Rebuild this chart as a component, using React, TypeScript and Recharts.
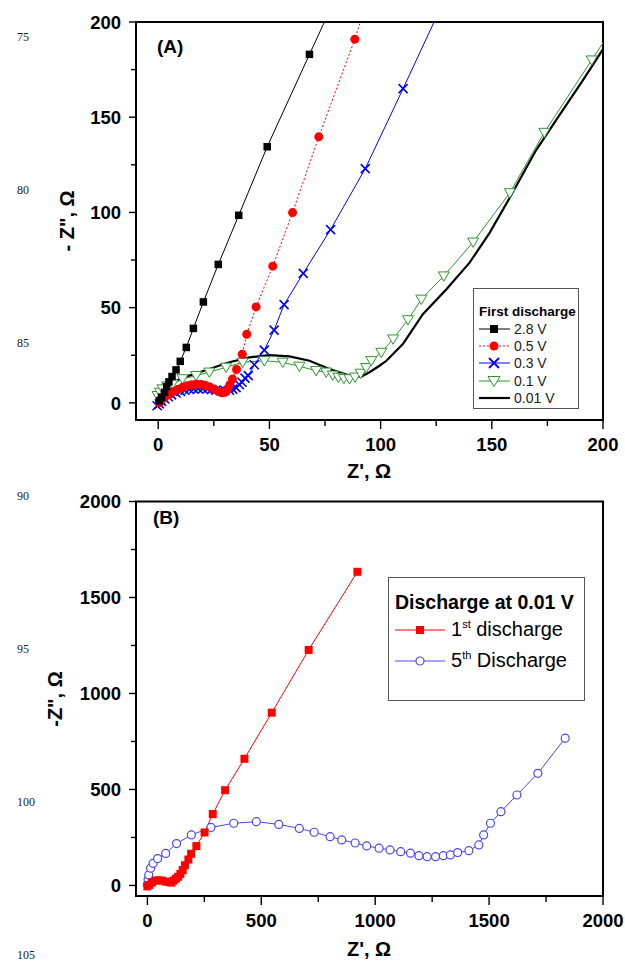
import React from 'react';
import { LineChart, Line, XAxis, YAxis, ReferenceArea, Legend } from 'recharts';

const FONT = '"Liberation Sans", Arial, Helvetica, sans-serif';

// (A) first discharge, Z' (ohm) vs -Z'' (ohm)
const reA28 = [0.5, 1.5, 2.8, 3.8, 4.8, 6.2, 8.0, 9.9, 12.6, 15.8, 20.3, 27.0, 36.2, 49.0, 68.0, 85];
const imA28 = [1, 3, 5.5, 8.5, 11, 13.8, 17.3, 21.8, 29.1, 39.1, 53.0, 72.7, 98.5, 134.5, 183.0, 226];

const reA05 = [0.5, 1.5, 3, 5, 7, 9, 11, 13, 15, 17, 19, 21, 23, 25, 27, 28.5, 30, 31.2, 32.2, 33.4, 35.2, 37.8, 39.8, 44, 51.5, 60.4, 72.2, 88.4, 95];
const imA05 = [0, 1.5, 3, 4.5, 6, 7.2, 8.2, 9, 9.5, 9.8, 9.8, 9.3, 8.5, 7.3, 6, 5.3, 5.6, 7.2, 9.5, 12.5, 17.5, 25.5, 36, 50.4, 71.8, 99.9, 139.7, 191, 215];

const reA03 = [-0.5, 0.5, 1.5, 3, 4.5, 6, 8, 10, 12, 14, 16, 18, 20, 22, 24, 26, 28, 30, 32, 33.5, 35, 36.5, 37.7, 39, 40.5, 43.2, 47.7, 52.1, 56.6, 65.2, 77.5, 93.1, 110.1, 130];
const imA03 = [-1.5, -0.5, 0.8, 2, 3.2, 4.2, 5.2, 6, 6.6, 7, 7.3, 7.5, 7.5, 7.3, 7, 6.7, 6.5, 6.5, 6.7, 7.2, 8, 9.5, 10.8, 13, 14.3, 20, 27.7, 38.2, 51.6, 68, 91, 123, 165, 215];

const reA01 = [-0.3, 0.8, 1.9, 4, 6.4, 10.9, 17, 23, 30.5, 38, 47.7, 56, 63.5, 71, 75.5, 78.5, 81, 83.5, 86, 88.5, 91, 93.5, 95.8, 100.3, 105.6, 112.3, 118.3, 128.4, 141.6, 158.1, 173.6, 194.9, 205];
const imA01 = [3.8, 5.5, 7.3, 8.8, 9.9, 12.6, 14.3, 16.1, 18.7, 21.3, 22.1, 21.3, 19.2, 16.9, 16.1, 14.5, 13.4, 12.8, 12.6, 13.5, 15.5, 18.5, 22.1, 26.5, 33.5, 43.6, 54.4, 66.6, 84.4, 110.3, 142, 180, 198];

const reA001 = [0.5, 2, 6.4, 14, 23, 32, 41, 50, 59, 68, 77, 86, 91.3, 95, 99.5, 102.6, 110, 119, 129.6, 140, 149, 158, 170, 182, 191, 199.7, 205];
const imA001 = [1.2, 7.3, 10.8, 14.3, 17.8, 21.3, 23.9, 25.1, 24.4, 22.1, 17.8, 14.3, 13.8, 16.1, 19.5, 22.1, 30.9, 46.6, 59.7, 73.6, 89.3, 107.6, 132.9, 153.8, 169.5, 185.2, 194];

// (B) discharge at 0.01 V
const reB1 = [0, 8, 20, 35, 50, 65, 80, 95, 105, 115, 125, 135, 145, 155, 165, 180, 192, 215, 251, 287, 341, 426, 546, 708, 922];
const imB1 = [-5, 3, 15, 25, 27, 25, 20, 18, 15, 25, 35, 45, 60, 80, 105, 135, 165, 205, 276, 372, 496, 660, 900, 1227, 1634];

const reB5 = [0, 3, 6, 14, 25, 45, 80, 128, 193, 279, 379, 478, 577, 667, 732, 802, 853, 912, 963, 1017, 1065, 1112, 1155, 1192, 1228, 1265, 1299, 1330, 1362, 1411, 1455, 1476, 1506, 1552, 1622, 1714, 1834];
const imB5 = [3, 29, 55, 90, 115, 140, 167, 218, 263, 302, 324, 332, 318, 297, 277, 254, 237, 221, 206, 194, 185, 176, 168, 155, 150, 150, 155, 159, 171, 181, 211, 263, 324, 384, 471, 584, 767];

const ticksA = [0, 25, 50, 75, 100, 125, 150, 175, 200];
const ticksB = [0, 250, 500, 750, 1000, 1250, 1500, 1750, 2000];
const lineNumbers = ['75', '80', '85', '90', '95', '100', '105'];

const zip = (re: number[], im: number[]) => re.map((x, i) => ({ x, y: im[i] }));

const GREEN = '#2f962f';
const BLUE_B = '#4646ff';

// marker renderers
const squareDot = (color: string, s: number) => (p: any) =>
  p.cx == null ? <g key={p.index} /> : (
    <rect key={p.index} x={p.cx - s / 2} y={p.cy - s / 2} width={s} height={s} fill={color} />
  );
const circleDot = (color: string, r: number, open = false) => (p: any) =>
  p.cx == null ? <g key={p.index} /> : (
    <circle key={p.index} cx={p.cx} cy={p.cy} r={r} fill={open ? '#fff' : color} stroke={color} strokeWidth={open ? 1.2 : 0} />
  );
const crossDot = (color: string, s: number) => (p: any) =>
  p.cx == null ? <g key={p.index} /> : (
    <path key={p.index} d={`M${p.cx - s},${p.cy - s}L${p.cx + s},${p.cy + s}M${p.cx - s},${p.cy + s}L${p.cx + s},${p.cy - s}`} stroke={color} strokeWidth={1.6} fill="none" />
  );
const triDot = (color: string, s: number) => (p: any) =>
  p.cx == null ? <g key={p.index} /> : (
    <path key={p.index} d={`M${p.cx - s},${p.cy - s * 0.75}L${p.cx + s},${p.cy - s * 0.75}L${p.cx},${p.cy + s * 0.95}Z`} fill="#fff" stroke={color} strokeWidth={1} />
  );

const xTick = (major: number) => (p: any) => {
  const { x, y, payload } = p;
  const isMajor = payload.value % major === 0;
  return (
    <g>
      <line x1={x} x2={x} y1={y} y2={y + (isMajor ? 9 : 6)} stroke="#000" strokeWidth={1.4} />
      {isMajor && (
        <text x={x} y={y + 31} textAnchor="middle" fontSize={18.5} fontWeight="bold" fontFamily={FONT} fill="#000">
          {payload.value}
        </text>
      )}
    </g>
  );
};

const yTick = (major: number) => (p: any) => {
  const { x, y, payload } = p;
  const isMajor = payload.value % major === 0;
  return (
    <g>
      <line x1={x - (isMajor ? 7 : 5)} x2={x} y1={y} y2={y} stroke="#000" strokeWidth={1.4} />
      {isMajor && (
        <text x={x - 15} y={y} dy="0.36em" textAnchor="end" fontSize={18.5} fontWeight="bold" fontFamily={FONT} fill="#000">
          {payload.value}
        </text>
      )}
    </g>
  );
};

const Sample = ({ w, color, dash, width = 1, mark }: { w: number; color: string; dash?: string; width?: number; mark?: React.ReactNode }) => (
  <svg width={w} height={14} style={{ display: 'block', overflow: 'visible' }}>
    <line x1={0} x2={w} y1={7} y2={7} stroke={color} strokeWidth={width} strokeDasharray={dash} />
    {mark}
  </svg>
);

const legendA = () => {
  const rows = [
    { t: '2.8 V', c: '#000', m: <rect x={11} y={3} width={8} height={8} fill="#000" /> },
    { t: '0.5 V', c: '#f00', d: '2 2', m: <circle cx={15} cy={7} r={4.5} fill="#f00" /> },
    { t: '0.3 V', c: '#00f', m: <path d="M10,2L20,12M10,12L20,2" stroke="#00f" strokeWidth={1.8} /> },
    { t: '0.1 V', c: GREEN, m: <path d="M9,2.5L21,2.5L15,12.5Z" fill="#fff" stroke={GREEN} /> },
    { t: '0.01 V', c: '#000', w: 2.2 },
  ];
  return (
    <div style={{ width: 106, height: 121, border: '1px solid #555', boxSizing: 'border-box', background: '#fff', fontFamily: FONT, padding: '14px 0 0 5px' }}>
      <div style={{ fontSize: 13.5, fontWeight: 'bold', lineHeight: '17px' }}>First discharge</div>
      {rows.map((r) => (
        <div key={r.t} style={{ display: 'flex', alignItems: 'center', height: 17.3, fontSize: 14 }}>
          <Sample w={31} color={r.c} dash={r.d} width={r.w ?? 1} mark={r.m} />
          <span style={{ marginLeft: 4, color: '#222' }}>{r.t}</span>
        </div>
      ))}
    </div>
  );
};

const legendB = () => (
  <div style={{ width: 197, height: 124, border: '1px solid #555', boxSizing: 'border-box', background: '#fff', fontFamily: FONT, padding: '12px 0 0 6px' }}>
    <div style={{ fontSize: 19.5, fontWeight: 'bold', lineHeight: '24px' }}>Discharge at 0.01 V</div>
    <div style={{ display: 'flex', alignItems: 'center', height: 31, fontSize: 20 }}>
      <Sample w={50} color="#f00" mark={<rect x={21} y={3} width={8} height={8} fill="#f00" />} />
      <span style={{ marginLeft: 6 }}>1<sup style={{ fontSize: 11 }}>st</sup> discharge</span>
    </div>
    <div style={{ display: 'flex', alignItems: 'center', height: 31, fontSize: 20 }}>
      <Sample w={50} color={BLUE_B} mark={<circle cx={25} cy={7} r={4} fill="#fff" stroke={BLUE_B} strokeWidth={1.2} />} />
      <span style={{ marginLeft: 6 }}>5<sup style={{ fontSize: 11 }}>th</sup> Discharge</span>
    </div>
  </div>
);

const titleStyle: React.CSSProperties = { position: 'absolute', fontFamily: FONT, fontWeight: 'bold', fontSize: 20, whiteSpace: 'nowrap', color: '#000' };

export default function App() {
  return (
    <div style={{ position: 'absolute', left: 0, top: 0, width: 625, height: 965, background: '#fff', overflow: 'hidden' }}>
      {lineNumbers.map((n, i) => (
        <div key={n} style={{ position: 'absolute', left: 17, top: 30 + i * 153, fontFamily: '"Liberation Serif", "DejaVu Serif", serif', fontSize: 12, color: '#222' }}>
          {n}
        </div>
      ))}

      <div style={{ position: 'absolute', left: 0, top: 0 }}>
        <LineChart width={625} height={480} margin={{ top: 22, right: 22, bottom: 20, left: 76 }}>
          <XAxis type="number" dataKey="x" domain={[-10, 200]} ticks={ticksA} interval={0} allowDataOverflow height={40}
            axisLine={false} tickLine={false} tickSize={0} tickMargin={0} tick={xTick(50)} />
          <YAxis type="number" dataKey="y" domain={[-9, 200]} ticks={ticksA} interval={0} allowDataOverflow width={60}
            axisLine={false} tickLine={false} tickSize={0} tickMargin={0} tick={yTick(50)} />
          <ReferenceArea x1={-10} x2={200} y1={-9} y2={200} fill="none" stroke="#000" strokeWidth={2} ifOverflow="visible" />
          <Line data={zip(reA001, imA001)} dataKey="y" name="0.01 V" stroke="#000" strokeWidth={2.2} dot={false} activeDot={false} isAnimationActive={false} />
          <Line data={zip(reA01, imA01)} dataKey="y" name="0.1 V" stroke={GREEN} strokeWidth={1} dot={triDot(GREEN, 5.5)} activeDot={false} isAnimationActive={false} />
          <Line data={zip(reA03, imA03)} dataKey="y" name="0.3 V" stroke="#00f" strokeWidth={1} dot={crossDot('#00f', 4.5)} activeDot={false} isAnimationActive={false} />
          <Line data={zip(reA05, imA05)} dataKey="y" name="0.5 V" stroke="#f00" strokeWidth={1} strokeDasharray="2 2" dot={circleDot('#f00', 4.5)} activeDot={false} isAnimationActive={false} />
          <Line data={zip(reA28, imA28)} dataKey="y" name="2.8 V" stroke="#000" strokeWidth={1} dot={squareDot('#000', 7.5)} activeDot={false} isAnimationActive={false} />
          <Legend layout="vertical" align="center" verticalAlign="middle" content={legendA}
            wrapperStyle={{ left: 473, top: 288, width: 106, height: 121 }} />
        </LineChart>
      </div>
      <div style={{ ...titleStyle, left: 157, top: 36, fontSize: 19 }}>(A)</div>
      <div style={{ ...titleStyle, left: 369, top: 460, transform: 'translateX(-50%)' }}>Z', Ω</div>
      <div style={{ ...titleStyle, left: 67, top: 221, transform: 'translate(-50%, -50%) rotate(-90deg)' }}>- Z", Ω</div>

      <div style={{ position: 'absolute', left: 0, top: 480 }}>
        <LineChart width={625} height={485} margin={{ top: 21.5, right: 22, bottom: 29, left: 76 }}>
          <XAxis type="number" dataKey="x" domain={[-50, 2000]} ticks={ticksB} interval={0} allowDataOverflow height={40}
            axisLine={false} tickLine={false} tickSize={0} tickMargin={0} tick={xTick(500)} />
          <YAxis type="number" dataKey="y" domain={[-55, 2000]} ticks={ticksB} interval={0} allowDataOverflow width={60}
            axisLine={false} tickLine={false} tickSize={0} tickMargin={0} tick={yTick(500)} />
          <ReferenceArea x1={-50} x2={2000} y1={-55} y2={2000} fill="none" stroke="#000" strokeWidth={2} ifOverflow="visible" />
          <Line data={zip(reB5, imB5)} dataKey="y" name="5th Discharge" stroke={BLUE_B} strokeWidth={1} dot={circleDot(BLUE_B, 4, true)} activeDot={false} isAnimationActive={false} />
          <Line data={zip(reB1, imB1)} dataKey="y" name="1st discharge" stroke="#f00" strokeWidth={1} dot={squareDot('#f00', 8)} activeDot={false} isAnimationActive={false} />
          <Legend layout="vertical" align="center" verticalAlign="middle" content={legendB}
            wrapperStyle={{ left: 388, top: 97, width: 197, height: 124 }} />
        </LineChart>
      </div>
      <div style={{ ...titleStyle, left: 153, top: 507, fontSize: 19 }}>(B)</div>
      <div style={{ ...titleStyle, left: 369, top: 938, transform: 'translateX(-50%)' }}>Z', Ω</div>
      <div style={{ ...titleStyle, left: 55, top: 699, transform: 'translate(-50%, -50%) rotate(-90deg)' }}>-Z", Ω</div>
    </div>
  );
}
